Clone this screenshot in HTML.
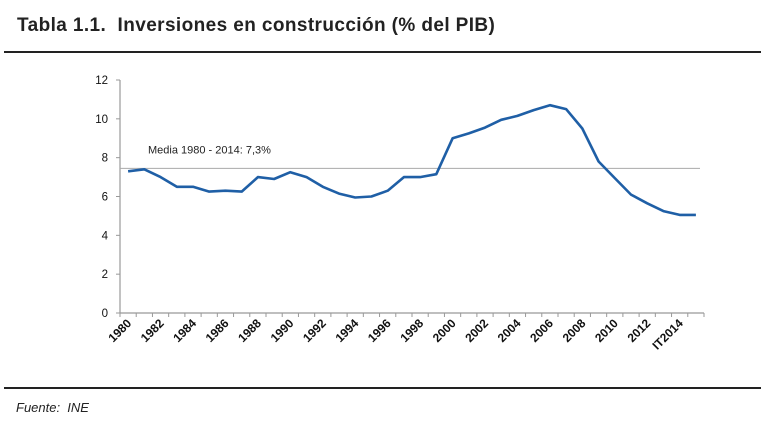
<!DOCTYPE html>
<html><head><meta charset="utf-8">
<style>
html,body{margin:0;padding:0;background:#fff;}
body{width:767px;height:431px;position:relative;overflow:hidden;font-family:"Liberation Sans",sans-serif;}
</style></head>
<body>
<div style="position:absolute;left:17px;top:15px;font-weight:bold;font-size:19px;color:#222;letter-spacing:0.4px;">Tabla 1.1.&nbsp; Inversiones en construcción (% del PIB)</div>
<div style="position:absolute;left:4px;top:51px;width:757px;height:2px;background:#222;"></div>
<div style="position:absolute;left:4px;top:387px;width:757px;height:2px;background:#222;"></div>
<div style="position:absolute;left:16px;top:400px;font-style:italic;font-size:13px;color:#222;">Fuente:&nbsp; INE</div>
<svg id="chart" width="767" height="431" style="position:absolute;left:0;top:0;"></svg>
<script>
const categories=["1980","1981","1982","1983","1984","1985","1986","1987","1988","1989","1990","1991","1992","1993","1994","1995","1996","1997","1998","1999","2000","2001","2002","2003","2004","2005","2006","2007","2008","2009","2010","2011","2012","2013","IT2014","2014b"];
const values=[7.3,7.4,7.0,6.5,6.5,6.25,6.3,6.25,7.0,6.9,7.25,7.0,6.5,6.15,5.95,6.0,6.3,7.0,7.0,7.15,9.0,9.25,9.55,9.95,10.15,10.45,10.7,10.5,9.5,7.8,6.95,6.1,5.65,5.25,5.05,5.05];
const yTicks=[0,2,4,6,8,10,12];
const meanValue=7.45;
const meanLabel="Media 1980 - 2014: 7,3%";
const NS="http://www.w3.org/2000/svg";
const svg=document.getElementById('chart');
const x0=120,x1=704,yBase=313,yTop=80;
const step=(x1-x0)/categories.length;
function xPos(i){return x0+step*(i+0.5);}
function yPos(v){return yBase-(v/12)*(yBase-yTop);}
function mk(t,a){const e=document.createElementNS(NS,t);for(const k in a)e.setAttribute(k,a[k]);svg.appendChild(e);return e;}
let e=mk('line',{x1:x0,y1:yTop,x2:x0,y2:yBase,stroke:'#999','stroke-width':1.2});


e=mk('line',{x1:x0,y1:yBase,x2:x1,y2:yBase,stroke:'#999','stroke-width':1.2});


yTicks.forEach(v=>{
  const y=yPos(v);
  let t=mk('line',{x1:x0-4,y1:y,x2:x0,y2:y,stroke:'#999'});
  
  
  let l=mk('text',{x:x0-12,y:y+4,'text-anchor':'end','font-size':11.5,fill:'#111'});
  l.textContent=v;
  
  
});
for(let i=0;i<=categories.length;i++){
  const x=x0+step*i;
  let t=mk('line',{x1:x,y1:yBase,x2:x,y2:yBase+4,stroke:'#999'});
  
  
}
categories.forEach((c,i)=>{
  if(i%2!==0)return;
  const x=xPos(i)+4,y=yBase+11;
  let l=mk('text',{x:x,y:y,'text-anchor':'end','font-size':12,'font-weight':'bold',fill:'#111',transform:`rotate(-45 ${x} ${y})`});
  l.textContent=c;
  
  
});
e=mk('line',{x1:x0,y1:yPos(meanValue),x2:x1-4,y2:yPos(meanValue),stroke:'#aaa','stroke-width':1});


e=mk('text',{x:148,y:yPos(meanValue)-15,'font-size':11,fill:'#222'});
e.textContent=meanLabel;


const pts=values.map((v,i)=>xPos(i).toFixed(1)+','+yPos(v).toFixed(1)).join(' ');
e=mk('polyline',{points:pts,fill:'none',stroke:'#1f5fa6','stroke-width':2.6,'stroke-linejoin':'round'});


</script>
</body></html>
